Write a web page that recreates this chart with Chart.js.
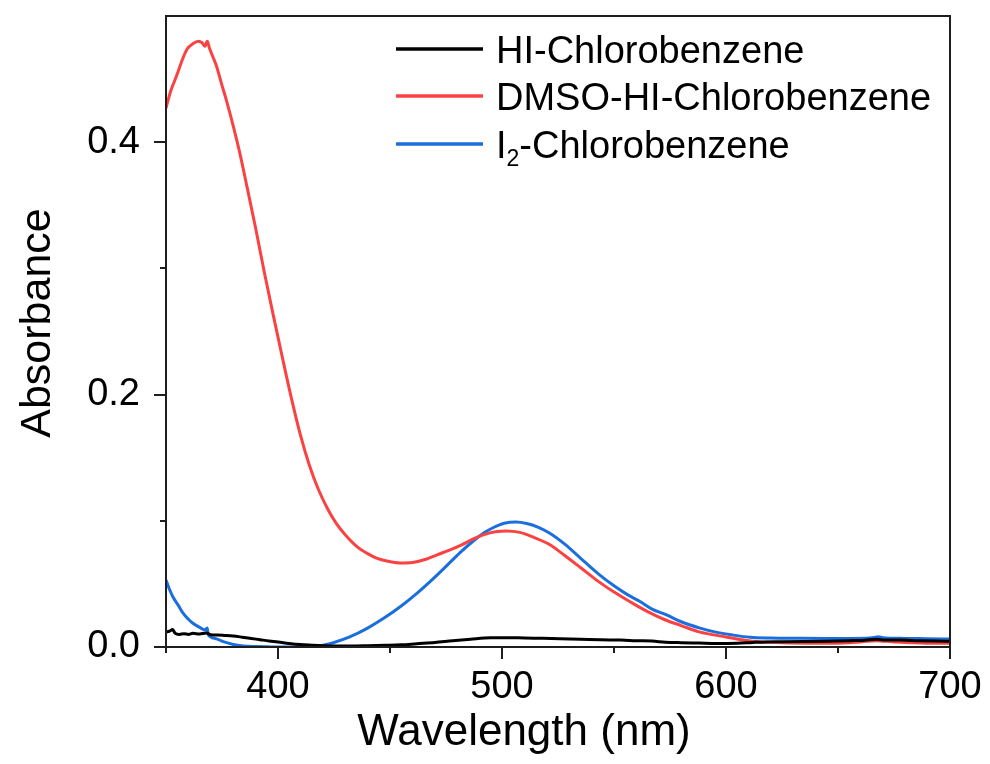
<!DOCTYPE html>
<html>
<head>
<meta charset="utf-8">
<title>Absorbance spectra</title>
<script src="https://cdn.jsdelivr.net/npm/chart.js@4/dist/chart.umd.min.js"></script>
<style>
  html, body { margin: 0; padding: 0; background: #ffffff; }
  canvas { display: block; }
</style>
</head>
<body>
<canvas id="absChart" width="990" height="764"></canvas>
<script>
// UV-Vis spectra, wavelength in nm, absorbance (a.u.)
const seriesLabels = ['HI-Chlorobenzene', 'DMSO-HI-Chlorobenzene', 'I\u2082-Chlorobenzene'];
const seriesColors = ['#000000', '#fb4242', '#1b6fdc'];

const hiWavelength = [350, 351.5, 353, 354, 356, 358, 360, 362, 365, 368, 370, 373, 376, 380, 384, 388, 392, 396, 400, 405, 410, 415, 420, 426, 432, 440, 448, 455, 462, 470, 478, 486, 495, 503, 510, 518, 526, 535, 544, 553, 560, 567, 573, 580, 588, 596, 605, 612, 618, 625, 635, 645, 655, 662, 667, 670, 678, 686, 694, 700];
const hiAbs = [0.0120, 0.0125, 0.0138, 0.0110, 0.0100, 0.0105, 0.0100, 0.0108, 0.0103, 0.0110, 0.0097, 0.0095, 0.0092, 0.0087, 0.0078, 0.0068, 0.0058, 0.0048, 0.0040, 0.0028, 0.0019, 0.0014, 0.0010, 0.0008, 0.0008, 0.0010, 0.0013, 0.0017, 0.0026, 0.0036, 0.0050, 0.0062, 0.0073, 0.0074, 0.0071, 0.0069, 0.0066, 0.0062, 0.0057, 0.0055, 0.0050, 0.0047, 0.0038, 0.0034, 0.0031, 0.0028, 0.0030, 0.0036, 0.0040, 0.0041, 0.0043, 0.0046, 0.0050, 0.0054, 0.0062, 0.0056, 0.0055, 0.0050, 0.0047, 0.0046];

const dmsoWavelength = [350, 352, 354.8, 357, 359.5, 362, 364.4, 366, 367.4, 368.4, 369.5, 372.6, 375, 377, 380, 383, 386, 390, 394, 398, 402, 406, 410, 414, 418, 422, 426, 430, 435, 440, 444, 449, 454.5, 460, 466.4, 471, 476.8, 482, 487.2, 492, 497, 502, 508, 514, 521.4, 528, 535, 543, 550, 557, 565, 573, 580, 588, 600, 610, 621, 635, 648, 660, 667, 675, 690, 700];
const dmsoAbs = [0.427, 0.440, 0.453, 0.464, 0.474, 0.478, 0.480, 0.479, 0.476, 0.480, 0.474, 0.460, 0.445, 0.433, 0.413, 0.391, 0.366, 0.332, 0.296, 0.262, 0.229, 0.197, 0.168, 0.144, 0.125, 0.110, 0.098, 0.089, 0.080, 0.074, 0.0705, 0.068, 0.0666, 0.067, 0.0697, 0.073, 0.077, 0.081, 0.0856, 0.089, 0.0913, 0.092, 0.0908, 0.087, 0.081, 0.0725, 0.063, 0.052, 0.0435, 0.036, 0.028, 0.0214, 0.017, 0.012, 0.008, 0.005, 0.0037, 0.003, 0.003, 0.004, 0.005, 0.004, 0.003, 0.003];

const i2Wavelength = [350, 351.5, 353, 355.5, 357.7, 360, 362, 365, 367.4, 368.4, 368.9, 372, 375.6, 380, 384.5, 390, 396, 402, 410, 418.8, 425, 432, 440, 447, 455, 462, 468, 476.8, 482, 487.2, 492, 496, 501, 506.4, 511, 516, 521, 528, 535, 543, 550, 556, 561.6, 567, 573.5, 580, 588.4, 595, 603, 610.7, 620, 633, 645, 655, 662.8, 666, 668, 670, 680, 690, 700];
const i2Abs = [0.053, 0.046, 0.040, 0.033, 0.0266, 0.022, 0.0188, 0.0155, 0.0135, 0.0150, 0.0095, 0.0068, 0.0042, 0.0020, 0.0008, 0.0003, 0.0001, 0.0, 0.0002, 0.0010, 0.0036, 0.0080, 0.0150, 0.0225, 0.0325, 0.0425, 0.052, 0.067, 0.076, 0.084, 0.0905, 0.0945, 0.098, 0.099, 0.0978, 0.0950, 0.0905, 0.0815, 0.0705, 0.058, 0.0485, 0.0415, 0.036, 0.030, 0.0254, 0.020, 0.015, 0.012, 0.0095, 0.0077, 0.0071, 0.0069, 0.0068, 0.0068, 0.0069, 0.0075, 0.0082, 0.0074, 0.0068, 0.0066, 0.0063];

const xTitle = 'Wavelength (nm)';
const yTitle = 'Absorbance';

const FONT = "'Liberation Sans', Arial, Helvetica, sans-serif";

function toPoints(xs, ys) {
    return xs.map((v, i) => ({ x: v, y: ys[i] }));
}

// frame, outward ticks, axis titles and the legend with subscript
const framePlugin = {
    id: 'framePlugin',
    afterDatasetsDraw(chart) {
        const { ctx, chartArea: a, scales: { x, y } } = chart;
        ctx.save();
        ctx.strokeStyle = '#1e1e1e';
        ctx.lineWidth = 2;
        ctx.strokeRect(a.left, a.top, a.right - a.left, a.bottom - a.top);

        ctx.beginPath();
        x.ticks.forEach(t => {
            const px = Math.round(x.getPixelForValue(t.value));
            const len = t.value % 100 === 0 ? 12 : 6;
            ctx.moveTo(px, a.bottom);
            ctx.lineTo(px, a.bottom + len);
        });
        y.ticks.forEach(t => {
            if (t.value > 0.45) return;
            const py = Math.round(y.getPixelForValue(t.value));
            const len = Math.round(t.value * 10) % 2 === 0 ? 12 : 6;
            ctx.moveTo(a.left, py);
            ctx.lineTo(a.left - len, py);
        });
        ctx.stroke();
        ctx.restore();
    },
    afterDraw(chart) {
        const ctx = chart.ctx;
        ctx.save();
        ctx.fillStyle = '#000000';
        ctx.textBaseline = 'alphabetic';

        // axis titles
        ctx.textAlign = 'center';
        ctx.font = '44px ' + FONT;
        ctx.fillText(xTitle, 524, 745);
        ctx.font = '43px ' + FONT;
        ctx.save();
        ctx.translate(50, 323);
        ctx.rotate(-Math.PI / 2);
        ctx.fillText(yTitle, 0, 0);
        ctx.restore();

        // legend
        ctx.textAlign = 'left';
        const rows = [49, 96, 144];
        chart.data.datasets.forEach((ds, i) => {
            const yy = rows[i];
            ctx.strokeStyle = ds.borderColor;
            ctx.lineWidth = 3.5;
            ctx.beginPath();
            ctx.moveTo(396, yy);
            ctx.lineTo(483, yy);
            ctx.stroke();

            let tx = 496;
            const base = yy + 14;
            for (const ch of ds.label) {
                if (ch === '\u2082') {
                    ctx.font = '23px ' + FONT;
                    ctx.fillText('2', tx, base + 8);
                    tx += ctx.measureText('2').width;
                } else {
                    ctx.font = '38px ' + FONT;
                    ctx.fillText(ch, tx, base);
                    tx += ctx.measureText(ch).width;
                }
            }
        });
        ctx.restore();
    }
};

const ctx = document.getElementById('absChart').getContext('2d');
const absChart = new Chart(ctx, {
    type: 'line',
    data: {
        datasets: [
            { label: seriesLabels[0], data: toPoints(hiWavelength, hiAbs), borderColor: seriesColors[0] },
            { label: seriesLabels[1], data: toPoints(dmsoWavelength, dmsoAbs), borderColor: seriesColors[1] },
            { label: seriesLabels[2], data: toPoints(i2Wavelength, i2Abs), borderColor: seriesColors[2] }
        ]
    },
    options: {
        responsive: false,
        animation: false,
        layout: { padding: { top: 16, right: 40, left: 0, bottom: 0 } },
        elements: {
            point: { radius: 0 },
            line: { borderWidth: 3, cubicInterpolationMode: 'monotone', fill: false }
        },
        plugins: {
            legend: { display: false },
            tooltip: { enabled: false }
        },
        scales: {
            x: {
                type: 'linear',
                min: 350,
                max: 700,
                grid: { display: false },
                border: { display: false },
                afterFit: s => {
                    s.height = 117;
                    s.paddingLeft = 0;
                    s.paddingRight = 0;
                },
                ticks: {
                    stepSize: 50,
                    autoSkip: false,
                    maxRotation: 0,
                    padding: 10,
                    color: '#000',
                    font: { family: FONT, size: 38 },
                    callback: v => (v % 100 === 0 ? String(v) : '')
                }
            },
            y: {
                min: 0,
                max: 0.5,
                grid: { display: false },
                border: { display: false },
                afterFit: s => {
                    s.width = 166;
                    s.paddingTop = 0;
                    s.paddingBottom = 0;
                },
                ticks: {
                    stepSize: 0.1,
                    autoSkip: false,
                    padding: 18,
                    color: '#000',
                    font: { family: FONT, size: 38 },
                    callback: v => {
                        const k = Math.round(v * 10);
                        return (k % 2 === 0 && k < 5) ? v.toFixed(1) : '';
                    }
                }
            }
        }
    },
    plugins: [framePlugin]
});
</script>
</body>
</html>
